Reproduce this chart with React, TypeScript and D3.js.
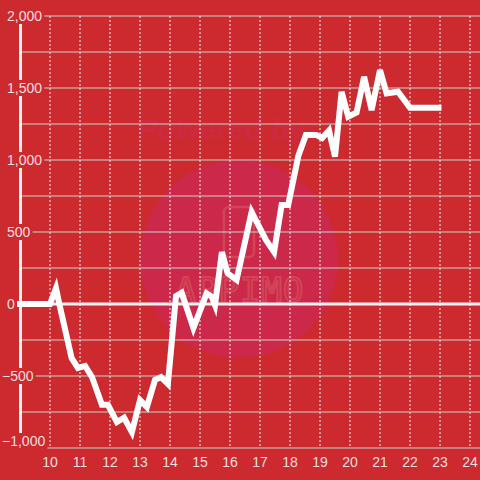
import React, { useEffect, useRef } from "react";
import * as d3 from "d3";

const xValues = [8.9, 10.0, 10.2, 10.3, 10.72, 10.93, 11.17, 11.4, 11.73, 11.93, 12.23, 12.47, 12.73, 13.0, 13.23, 13.5, 13.7, 13.93, 14.2, 14.39, 14.78, 15.22, 15.39, 15.5, 15.73, 15.92, 16.22, 16.72, 17.2, 17.47, 17.72, 17.94, 18.28, 18.53, 18.87, 19.07, 19.3, 19.5, 19.72, 19.94, 20.22, 20.47, 20.72, 21.0, 21.22, 21.6, 22.0, 23.05];
const yValues = [0, 0, 110, 10, -375, -444, -430, -507, -700, -700, -820, -790, -890, -667, -715, -527, -507, -555, 55, 78, -167, 74, 51, -7, 361, 213, 167, 639, 444, 361, 688, 688, 1030, 1174, 1174, 1153, 1205, 1023, 1474, 1301, 1330, 1578, 1347, 1625, 1463, 1474, 1362, 1362];
const yTickLabels = [2000, 1500, 1000, 500, 0, -500, -1000];
const yGridValues = [2000, 1750, 1500, 1250, 1000, 750, 500, 250, -250, -500, -750, -1000];
const xTickValues = [10, 11, 12, 13, 14, 15, 16, 17, 18, 19, 20, 21, 22, 23, 24];

const W = 480;
const H = 480;
const BG = "#cc2a2f";

export default function App() {
  const ref = useRef<SVGSVGElement | null>(null);

  useEffect(() => {
    const svg = d3.select(ref.current);
    svg.selectAll("*").remove();

    const x = d3.scaleLinear().domain([10, 24]).range([50, 470]);
    const y = d3.scaleLinear().domain([-1000, 2000]).range([448, 16]);

    svg.append("rect").attr("width", W).attr("height", H).attr("fill", BG);

    // watermark
    const wm = svg.append("g");
    wm.append("circle").attr("cx", 239).attr("cy", 259).attr("r", 99).attr("fill", "#cc2849");
    wm.append("text")
      .attr("x", 222).attr("y", 139)
      .attr("text-anchor", "middle")
      .attr("font-family", "Liberation Sans, Arial, sans-serif")
      .attr("font-size", 30).attr("font-weight", "bold").attr("font-style", "italic")
      .attr("fill", "#cc2a40")
      .text("Powered by");
    wm.append("rect").attr("x", 224).attr("y", 207).attr("width", 30).attr("height", 50).attr("rx", 5)
      .attr("fill", "none").attr("stroke", "#d24458").attr("stroke-width", 2.5);
    wm.append("text")
      .attr("x", 240).attr("y", 302)
      .attr("text-anchor", "middle")
      .attr("font-family", "DejaVu Sans Mono, monospace")
      .attr("font-size", 34)
      .attr("fill", "none").attr("stroke", "#d24458").attr("stroke-width", 2)
      .attr("letter-spacing", 1)
      .text("APPIMO");

    // horizontal grid
    svg.append("g").selectAll("line").data(yGridValues).join("line")
      .attr("x1", 20).attr("x2", W)
      .attr("y1", (d) => y(d)).attr("y2", (d) => y(d))
      .attr("stroke", "#cfcfcf").attr("stroke-width", 1.2);

    // vertical dotted grid
    svg.append("g").selectAll("line").data(xTickValues).join("line")
      .attr("x1", (d) => x(d)).attr("x2", (d) => x(d))
      .attr("y1", 16).attr("y2", 448)
      .attr("stroke", "#f0f0f0").attr("stroke-width", 1)
      .attr("stroke-dasharray", "2,2");

    // zero line
    svg.append("line").attr("x1", 20).attr("x2", W)
      .attr("y1", y(0)).attr("y2", y(0))
      .attr("stroke", "#f2f2f2").attr("stroke-width", 3);

    // y axis line
    svg.append("line").attr("x1", 20.5).attr("x2", 20.5)
      .attr("y1", 16).attr("y2", 448)
      .attr("stroke", "#f2f2f2").attr("stroke-width", 3);

    // y labels with background
    const fmt = d3.format(",");
    const yl = svg.append("g");
    yTickLabels.forEach((v) => {
      const cy = Math.min(y(v), 441);
      const t = yl.append("text")
        .attr("x", v < 0 ? 2 : 7)
        .attr("y", cy)
        .attr("dy", "0.35em")
        .attr("font-family", "Liberation Sans, Arial, sans-serif")
        .attr("font-size", 14)
        .attr("fill", "#f6dede")
        .text(fmt(v));
      const bb = (t.node() as SVGTextElement).getBBox();
      yl.insert("rect", () => t.node() as any)
        .attr("x", bb.x - 2).attr("y", cy - 8)
        .attr("width", bb.width + 4).attr("height", 16)
        .attr("fill", BG);
    });

    // x labels
    svg.append("g").selectAll("text").data(xTickValues).join("text")
      .attr("x", (d) => x(d)).attr("y", 467)
      .attr("text-anchor", "middle")
      .attr("font-family", "Liberation Sans, Arial, sans-serif")
      .attr("font-size", 14)
      .attr("fill", "#f6dede")
      .text((d) => String(d));

    // data line
    const pts: [number, number][] = xValues.map((v, i) => [v, yValues[i]]);
    const line = d3.line<[number, number]>().x((d) => x(d[0])).y((d) => y(d[1]));
    svg.append("path").attr("d", line(pts) as string)
      .attr("fill", "none").attr("stroke", "#ffffff").attr("stroke-width", 6)
      .attr("stroke-linejoin", "miter").attr("stroke-miterlimit", 4);
  }, []);

  return (
    <svg ref={ref} width={W} height={H} style={{ position: "absolute", left: 0, top: 0, display: "block" }} />
  );
}
